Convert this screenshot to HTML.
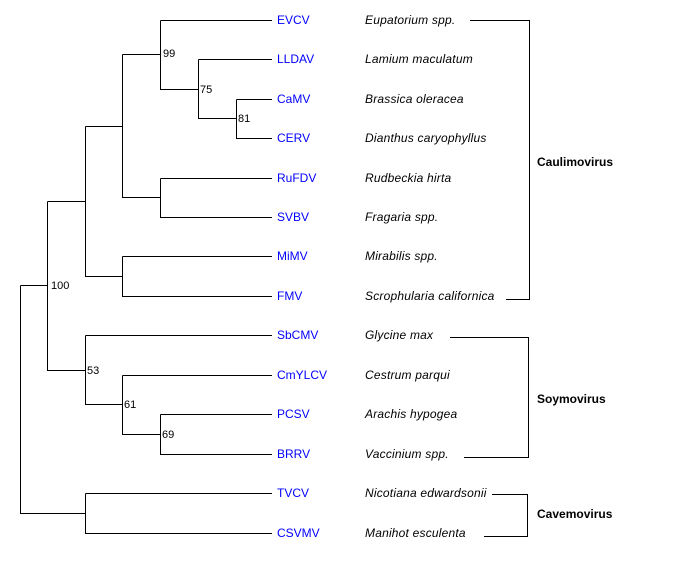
<!DOCTYPE html>
<html><head><meta charset="utf-8"><style>
body{margin:0;background:#fff}
svg{display:block}
text{font-family:"Liberation Sans",Arial,sans-serif}
.l{fill:#0000ff;font-size:12px}
.s{font-size:12px;font-style:italic;letter-spacing:0.2px}
.b{font-size:11px}
.g{font-size:12px;font-weight:bold}
</style></head><body>
<svg width="678" height="561" viewBox="0 0 678 561" shape-rendering="crispEdges">
<g stroke="#000" stroke-width="1" fill="none">
<path d="M160.5 20.5H272M160.5 20.5V89.5H198.5M198.5 59.5H272M198.5 59.5V118.5H236.5M236.5 99.5H272M236.5 99.5V138.5H272"/>
<path d="M122.5 54.5H160.5M122.5 54.5V197.5H160.5M160.5 178.5H272M160.5 178.5V217.5H272"/>
<path d="M122.5 256.5H272M122.5 256.5V296.5H272"/>
<path d="M85.5 126.5H122.5M85.5 126.5V276.5H122.5"/>
<path d="M160.5 414.5H272M160.5 414.5V454.5H272M122.5 375.5H272M122.5 375.5V434.5H160.5M85.5 335.5H272M85.5 335.5V404.5H122.5"/>
<path d="M47.5 201.5H85.5M47.5 201.5V370.5H85.5"/>
<path d="M85.5 493.5H272M85.5 493.5V533.5H272"/>
<path d="M20.5 285.5H47.5M20.5 285.5V513.5H85.5"/>
<path d="M470 20.5H529.5V299.5H506"/>
<path d="M450 337.5H528.5V457.5H464"/>
<path d="M492 494.5H527.5V536.5H484"/>
</g>
<g class="l">
<text x="277" y="24">EVCV</text><text x="277" y="63">LLDAV</text><text x="277" y="103">CaMV</text><text x="277" y="142">CERV</text>
<text x="277" y="182">RuFDV</text><text x="277" y="221">SVBV</text><text x="277" y="260">MiMV</text><text x="277" y="300">FMV</text>
<text x="277" y="339">SbCMV</text><text x="277" y="379">CmYLCV</text><text x="277" y="418">PCSV</text><text x="277" y="458">BRRV</text>
<text x="277" y="497">TVCV</text><text x="277" y="537">CSVMV</text>
</g>
<g class="s">
<text x="365" y="24">Eupatorium spp.</text><text x="365" y="63">Lamium maculatum</text><text x="365" y="103">Brassica oleracea</text><text x="365" y="142">Dianthus caryophyllus</text>
<text x="365" y="182">Rudbeckia hirta</text><text x="365" y="221">Fragaria spp.</text><text x="365" y="260">Mirabilis spp.</text><text x="365" y="300">Scrophularia californica</text>
<text x="365" y="339">Glycine max</text><text x="365" y="379">Cestrum parqui</text><text x="365" y="418">Arachis hypogea</text><text x="365" y="458">Vaccinium spp.</text>
<text x="365" y="497">Nicotiana edwardsonii</text><text x="365" y="537">Manihot esculenta</text>
</g>
<g class="b">
<text x="163" y="57">99</text><text x="200" y="93">75</text><text x="238" y="122">81</text>
<text x="51" y="289">100</text><text x="87" y="374">53</text><text x="124" y="408">61</text><text x="162" y="438">69</text>
</g>
<g class="g">
<text x="537" y="166">Caulimovirus</text><text x="537" y="403">Soymovirus</text><text x="537" y="518">Cavemovirus</text>
</g>
</svg>
</body></html>
